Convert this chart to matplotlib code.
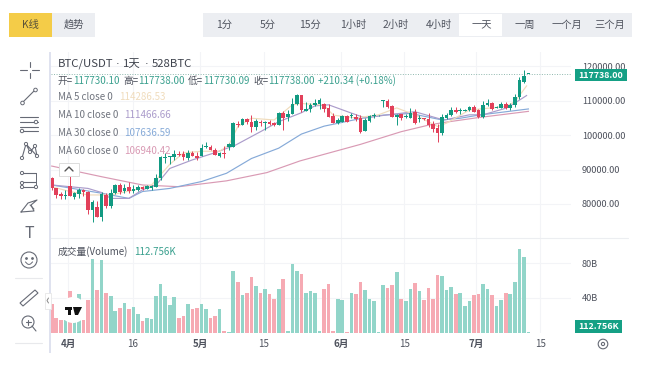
import numpy as np
import matplotlib
matplotlib.use("Agg")
import matplotlib.pyplot as plt
from matplotlib.patches import Rectangle, Circle, Polygon

plt.rcParams['font.family'] = ['Noto Sans CJK SC', 'DejaVu Sans']

opens = [87440,84500,82900,82200,85200,82000,83000,83900,83500,78200,79200,76300,82700,79300,83300,85400,83700,84800,83700,84000,
	84800,84400,84700,85000,87500,93400,93500,93500,94300,94500,93200,94900,93900,94000,96400,96500,95800,93900,94900,96600,
	96500,103300,102850,104600,103800,102300,103900,103500,103900,103400,102900,106300,105200,106100,109000,111650,107000,107500,108750,109000,
	109000,107800,105500,103600,103900,105500,105500,105400,104900,101200,104100,105600,105700,110000,110000,108500,105350,106000,105300,105100,
	106800,104600,104900,104700,103200,102000,100700,105100,105800,107300,107000,107100,107200,108300,107300,105350,108700,109400,107900,107800,
	108900,107800,108700,111000,115500,117730]
closes = [84530,82500,82200,82600,82400,83100,83900,83500,78200,80650,76300,83000,79300,83300,85500,83600,84600,83700,84200,85000,
	84300,85100,85300,87500,93500,93700,93950,94500,94200,93750,94900,93900,93200,96300,96800,95700,94200,94900,94400,97300,
	103500,102900,104600,103800,102300,104000,103400,103700,103100,102800,106300,105100,106200,109000,111600,107300,107700,108750,109200,110200,
	107500,105350,103600,104400,105550,103900,105700,104600,101000,104400,105550,105800,105750,110150,108250,105350,105900,104850,105400,106500,
	103600,104900,104600,102900,101700,100700,105350,105800,107300,106600,107100,107200,108300,106800,105200,108750,109400,107500,108000,108900,
	107800,108700,111200,115900,117300,117738]
highs = [87700,84700,83500,83900,88000,83500,84700,84200,83800,81200,80800,83500,83200,84300,85900,86100,85800,86400,85500,85500,
	85100,85600,85400,88800,93800,94700,94000,95700,95300,95300,95600,95400,95200,97400,97900,97000,96300,95200,96900,97700,
	103800,104000,104900,104900,105800,104800,104300,104100,104500,103700,106700,107100,107300,110700,111900,111800,109500,109300,110400,110700,
	109300,108900,106300,104900,105800,105900,106500,106000,105900,105000,105900,106400,105800,110300,110400,108800,106200,106200,106100,108000,
	107700,105800,105100,106300,104000,103300,106000,106300,108100,108200,108000,107500,108500,108800,107500,109800,110500,109700,108400,109700,
	109700,109200,111900,116800,118900,117738]
lows = [84000,81600,81400,81300,82300,81300,81700,82400,77100,74840,76200,74900,78900,78900,83000,83000,83200,83100,83100,83700,
	84100,84300,83900,85000,86900,91900,91700,92800,93900,92900,92900,93900,92900,93900,96300,95600,94100,93500,93400,95800,
	96400,102300,102800,103300,100800,101400,102600,101400,103000,102600,102800,101500,104200,106100,108800,106800,106900,106800,108600,107500,
	106800,105300,103400,103100,103900,103700,104900,104200,100500,101100,103900,105100,105650,108300,108000,105300,102900,104500,104900,104900,
	103300,103700,104500,102400,100800,98100,100000,104600,105600,106400,106000,106900,107000,106700,105100,105100,108600,107300,107800,107800,
	107500,107400,108300,110600,115200,117730]
volumes = [33.5,17.3,15,14.2,48.1,39,45,15,37.3,85.5,48.9,84.3,45.8,42,24.6,28.9,34.3,27.7,29.6,21.9,
	13.1,16.2,15.4,42,55.8,42,31.6,41.2,17.3,18.9,32.7,26.6,28.9,33.5,26.6,16.2,18.9,26.6,1.2,0.8,
	71.2,58.5,43.1,46.2,64.3,53.5,46.2,50.8,45,38.5,50.8,62.4,1.9,78.9,70.8,68.1,46.2,48.1,46.2,1.9,
	50,56.6,1.5,39.3,38.1,0.8,46.2,44.3,58.1,48.9,38.9,36.6,0.5,55.4,51.6,55.4,69.7,38.5,36.6,50.8,
	57.4,48.1,38.1,51.6,38.5,67,65.5,48.9,52.7,45,45.8,30.8,36.2,43.1,44.7,56.6,50.8,43.1,31.2,37,
	45.4,44.7,58.5,97,87.4,0.8]

ma5_x = [0,4,8,13,18,22,26,29,33,37,39,41,44,49,53,55,60,62,67,72,76,80,85,87,92,100,102,104.6]
ma5 = [85000,83600,82600,82600,84000,85500,91500,94800,95300,95300,97100,102500,104900,104400,108800,109200,108700,105800,105000,105900,107900,105900,102500,103500,107300,108300,109700,114300]
ma10_x = [0,8,11,13,17,20,23,26,31,36,40.5,46,50,55,58,61,66,69,74,80,85,86.5,92,95,100,102,104.6]
ma10 = [85500,84500,83300,81600,81600,84100,85500,90300,92800,94900,97100,101000,103900,106500,108500,108800,106400,105000,105900,106800,104900,104400,105900,105900,107800,109300,111500]
ma30_x = [0,11,17,20,26,33,38.5,44,50,55,60,68,73,79,86,90,94,105]
ma30 = [85500,83100,81600,83600,84500,86500,88900,93200,96200,100300,102600,104800,105800,106300,104400,104900,105800,107600]
ma60_x = [0,11,20,28,38.5,47.4,54.7,68,77,83,86,94,105]
ma60 = [91000,87900,85500,85000,86700,89100,92500,97300,101000,102900,103600,105100,106900]

price_ticks = [80000,90000,100000,110000,120000]
price_labels = ["80000.00","90000.00","100000.00","110000.00","120000.00"]
vol_ticks = [40,80]
vol_labels = ["40B","80B"]
date_pos = [3.7,17.8,32.7,46.7,63.7,77.7,93.5,107.6]
date_labels = ["4月","16","5月","15","6月","15","7月","15"]
tabs = ["1分","5分","15分","1小时","2小时","4小时","一天","一周","一个月","三个月"]
ma_names = ["MA 5 close 0","MA 10 close 0","MA 30 close 0","MA 60 close 0"]
ma_values = ["114286.53","111466.66","107636.59","106940.42"]

UP = "#129a82"
DOWN = "#e2405a"
VUP = "#92d5c9"
VDOWN = "#f6aab3"
GRID = "#f3f4f7"
MACOL = ["#f0dcbc","#ab9ccb","#86aad8","#d99ab4"]
TXT = "#4f535e"
ICON = "#666a75"

W, H = 650, 366
fig = plt.figure(figsize=(6.5,3.66), dpi=100, facecolor="white")

def axes_px(x0, y0, x1, y1):
	return fig.add_axes([x0/W, 1-y1/H, (x1-x0)/W, (y1-y0)/H])

# x pixel of candle i is 51.7 + 4.54*i
xlim = ((51-51.7)/4.54, (571-51.7)/4.54)

ax = axes_px(51, 52, 571, 238)
ax.set_xlim(xlim)
ax.set_ylim(120000-(238-66.3)/0.00344, 120000-(52-66.3)/0.00344)
vax = axes_px(51, 238, 571, 332.5)
vax.set_xlim(xlim)
vax.set_ylim(0, (332.5-238)/0.865)

opens = np.array(opens)
closes = np.array(closes)
idx = np.arange(len(opens))
colors = [UP if c >= o else DOWN for o, c in zip(opens, closes)]
vcolors = [VUP if c >= o else VDOWN for o, c in zip(opens, closes)]

ax.plot(ma60_x, ma60, color=MACOL[3], lw=0.85, zorder=2)
ax.plot(ma30_x, ma30, color=MACOL[2], lw=0.85, zorder=2)
ax.plot(ma10_x, ma10, color=MACOL[1], lw=0.85, zorder=2)
ax.plot(ma5_x, ma5, color=MACOL[0], lw=0.85, zorder=2)

ax.vlines(idx, lows, highs, color=colors, lw=0.7, zorder=3)
ax.bar(idx, np.maximum(np.abs(closes-opens), 200), bottom=np.minimum(opens, closes), width=0.8, color=colors, zorder=4)
ax.axhline(closes[-1], color="#8fb8ae", lw=0.7, ls=(0,(1,1.6)), zorder=1)

vax.bar(idx, volumes, width=0.8, color=vcolors, zorder=3)

for a in (ax, vax):
	for s in a.spines.values():
		s.set_visible(False)
	a.set_xticks(date_pos)
	a.grid(True, color=GRID, lw=0.8)
	a.set_axisbelow(True)
	a.yaxis.tick_right()
	a.tick_params(length=0, labelsize=6.6, labelcolor=TXT, pad=8)

ax.set_yticks(price_ticks)
ax.set_yticklabels(price_labels)
ax.tick_params(labelbottom=False)
vax.set_yticks(vol_ticks)
vax.set_yticklabels(vol_labels)
vax.set_xticks(date_pos)
vax.set_xticklabels(date_labels)
vax.tick_params(axis="x", pad=4.5, labelsize=7)
for lab in vax.get_xticklabels():
	if "月" in lab.get_text():
		lab.set_fontweight("bold")

# everything around the chart, in pixel coordinates
ui = fig.add_axes([0,0,1,1], zorder=10)
ui.set_xlim(0, W)
ui.set_ylim(H, 0)
ui.axis("off")
ui.patch.set_alpha(0)

def box(x0, y0, x1, y1, **kw):
	ui.add_patch(Rectangle((x0,y0), x1-x0, y1-y0, **kw))

def line(xs, ys, c=ICON, lw=0.8):
	ui.plot(xs, ys, color=c, lw=lw, solid_capstyle="round")

def ring(x, y, r=1.7, lw=0.7):
	ui.add_patch(Circle((x,y), r, fc="white", ec=ICON, lw=lw, zorder=5))

def txt(x, y, s, size=7.0, c=TXT, ha="left", **kw):
	ui.text(x, y, s, fontsize=size, color=c, ha=ha, va="center", **kw)

# tabs on top
box(9, 13, 52, 37, fc="#f4cc48", ec="none")
box(52, 13, 95, 37, fc="#eceef2", ec="none")
txt(30.5, 25, "K线", c="#5a5238", ha="center", size=7.4)
txt(73.5, 25, "趋势", ha="center", size=7.4)
box(203, 13, 632, 37, fc="#eceef2", ec="none")
box(459, 14, 502, 36, fc="white", ec="none")
for i, t in enumerate(tabs):
	txt(224.5+42.85*i, 25, t, ha="center", size=7.4)

# left band, separators
box(48.5, 52, 51, 353, fc="#dfe2ef", ec="none")
line([51,628], [238,238], c="#eceef1", lw=0.8)
line([15,42], [278,278], c="#e8e9ec", lw=0.8)
line([15,42], [343,343], c="#e8e9ec", lw=0.8)

# legend
txt(58, 64, "BTC/USDT", size=8.2, c="#3f434d")
txt(117.5, 64, "·", size=8.2, c="#3f434d", ha="center", family="DejaVu Sans")
txt(123, 64, "1天", size=8.2, c="#3f434d")
txt(147, 64, "·", size=8.2, c="#3f434d", ha="center", family="DejaVu Sans")
txt(151.5, 64, "528BTC", size=8.2, c="#3f434d")
tv = "#3aa08e"
for x, lab, xv, val in [(58,"开",73,"117730.10"),(123,"高",138,"117738.00"),(188,"低",203,"117730.09"),(253,"收",268,"117738.00")]:
	txt(x, 81, lab+"=", c=TXT)
	txt(xv, 81, val, c=tv)
txt(318, 81, "+210.34 (+0.18%)", c=tv)
for i in range(4):
	y = 97+18*i
	txt(58, y, ma_names[i], c="#71757f")
	txt(119 if i == 0 else 124.5, y, ma_values[i], c=MACOL[i])
txt(58, 252, "成交量(Volume)", c=TXT)
txt(134, 252, "112.756K", c=tv)

# last value labels
box(575, 69, 627, 81, fc="#15a085", ec="none")
txt(601, 75, "117738.00", c="white", ha="center", fontweight="bold", size=6.4)
box(575, 320, 622, 333, fc="#15a085", ec="none")
txt(598.5, 326.5, "112.756K", c="white", ha="center", fontweight="bold", size=6.4)

# collapse button and tab
box(59, 163, 79, 176, fc="white", ec="#dcdcdc", lw=0.7)
line([65,69,73], [171,167,171], c="#555555", lw=1)
box(45, 293, 51, 309, fc="white", ec="#e6e6e6", lw=0.6)
line([48.5,47,48.5], [298,300.5,303], c="#888888", lw=0.7)

# logo
ui.add_patch(Circle((73,310), 13, fc="white", ec="none"))
box(65, 307, 72, 310, fc="#111111", ec="none")
box(68, 307, 71, 315, fc="#111111", ec="none")
ui.add_patch(Polygon([(73,307),(82,307),(78,315),(75,315)], fc="#111111", ec="none"))

# toolbar icons
line([20,27],[70,70]); line([32,39],[70,70]); line([29.5,29.5],[62,67]); line([29.5,29.5],[73,78])
line([23,35],[102,90])
ring(22.5,103,1.8); ring(35.5,90,1.8)
for y in (117,122,127,131):
	line([20,38],[y,y])
ring(36,122); ring(22,131)
pts = [(22,158),(26,144),(30,152),(35,146),(37,156),(26,144)]
line([p[0] for p in pts], [p[1] for p in pts])
for p in pts[:5]:
	ring(p[0], p[1], 1.6)
for y in (173,182,187):
	line([22,36],[y,y])
line([36,36],[173,187],lw=0.7)
for p in [(22,173),(22,183),(36,187),(22,187)]:
	ring(p[0], p[1], 1.6)
line([21,28,37,31,34,21],[212,203,200,205,211,212])
line([30,34],[205,209],lw=0.7)
txt(29, 233, "T", size=11.5, c=ICON, ha="center")
ui.add_patch(Circle((29,260), 8, fc="none", ec=ICON, lw=0.8))
ui.plot([26,32],[258,258], ls="none", marker="o", ms=1, color=ICON)
ui.plot([25.5,27.5,29,30.5,32.5], [262,264,264.5,264,262], color=ICON, lw=0.7)
ui.add_patch(Polygon([(20,303),(23,306),(38,293),(35,290)], fc="none", ec=ICON, lw=0.8))
ui.add_patch(Circle((28,322), 6, fc="none", ec=ICON, lw=0.8))
line([25.5,30.5],[322,322]); line([28,28],[319.5,324.5]); line([32,36],[326,331])

# settings gear bottom right
ui.add_patch(Circle((603,344), 4.8, fc="none", ec=ICON, lw=0.8))
ui.add_patch(Circle((603,344), 1.6, fc="none", ec=ICON, lw=0.8))

fig.savefig("out.png", dpi=100, facecolor="white")
